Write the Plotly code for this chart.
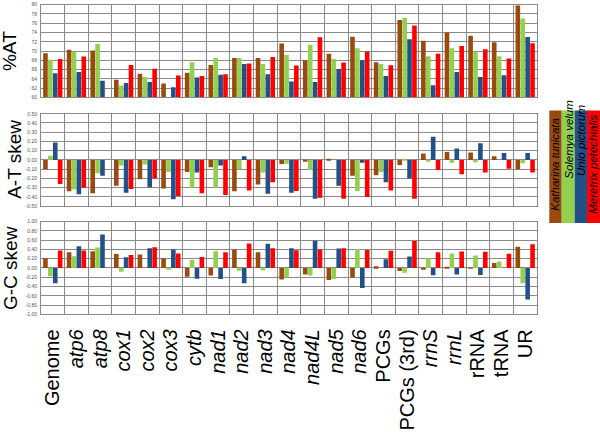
import plotly.graph_objects as go

categories = ["Genome", "atp6", "atp8", "cox1", "cox2", "cox3", "cytb", "nad1", "nad2", "nad3",
              "nad4", "nad4L", "nad5", "nad6", "PCGs", "PCGs (3rd)", "rrnS", "rrnL", "rRNA", "tRNA", "UR"]
tick_labels = ["Genome", "<i>atp6</i>", "<i>atp8</i>", "<i>cox1</i>", "<i>cox2</i>", "<i>cox3</i>",
               "<i>cytb</i>", "<i>nad1</i>", "<i>nad2</i>", "<i>nad3</i>", "<i>nad4</i>", "<i>nad4L</i>",
               "<i>nad5</i>", "<i>nad6</i>", "PCGs", "PCGs (3rd)", "<i>rrnS</i>", "<i>rrnL</i>",
               "rRNA", "tRNA", "UR"]
species = ["Katharina tunicata", "Solemya velum", "Unio pictorum", "Meretrix petechialis"]
colors = ["#9A4A0E", "#92D050", "#24508A", "#FF0000"]

# %AT
at_katharina = [69.5, 70.3, 70.1, 63.8, 65.1, 63.0, 65.3, 67.0, 68.5, 68.5, 71.6, 68.0, 69.4, 73.1, 67.6, 76.7, 72.2, 74.0, 73.3, 71.9, 79.8]
at_solemya = [68.1, 69.9, 71.5, 62.55, 64.4, None, 67.6, 68.5, 68.5, 67.2, 69.2, 71.35, 68.3, 70.6, 67.2, 77.2, 68.9, 70.6, 69.9, 68.9, 77.0]
at_unio = [65.2, 65.5, 63.6, 63.1, 63.3, 62.2, 64.3, 64.9, 67.2, 65.0, 63.4, 63.3, 66.1, 68.0, 64.6, 72.55, 62.6, 65.5, 64.4, 64.8, 73.05]
at_meretrix = [68.3, 68.8, None, 67.0, 66.2, 64.7, 64.6, 65.0, 67.3, 68.7, 66.9, 73.0, 67.5, 69.9, 66.95, 75.5, 69.4, 71.1, 70.4, 68.4, 71.7]

# A-T skew
ats_katharina = [-0.10, -0.34, -0.36, -0.28, -0.21, -0.31, -0.13, -0.08, -0.34, -0.265, -0.045, -0.015, 0.01, -0.17, -0.165, -0.055, 0.07, 0.085, 0.08, 0.04, -0.10]
ats_solemya = [0.045, -0.32, -0.145, -0.06, -0.05, -0.13, -0.30, -0.30, -0.10, -0.135, -0.04, -0.11, 0.0, -0.335, -0.13, 0.01, -0.015, -0.03, -0.025, 0.0, -0.035]
ats_unio = [0.19, -0.37, -0.17, -0.355, -0.295, -0.425, -0.135, -0.06, 0.04, -0.365, -0.355, -0.42, -0.28, -0.03, -0.24, -0.20, 0.25, 0.125, 0.18, 0.075, 0.075]
ats_meretrix = [-0.26, -0.30, None, -0.315, -0.20, -0.39, -0.36, -0.38, -0.33, -0.24, -0.335, -0.41, -0.42, -0.40, -0.33, -0.42, -0.11, -0.155, -0.135, -0.095, -0.135]

# G-C skew
gcs_katharina = [0.21, 0.34, 0.36, 0.30, 0.29, 0.21, -0.19, -0.16, 0.40, 0.34, -0.25, -0.14, -0.26, -0.205, 0.04, -0.065, -0.035, 0.015, 0.005, 0.105, 0.46]
gcs_solemya = [-0.18, 0.255, 0.44, -0.08, 0.0, -0.03, 0.17, 0.36, -0.06, -0.055, -0.20, -0.16, -0.235, 0.41, 0.0, -0.10, 0.21, 0.31, 0.27, 0.14, -0.33]
gcs_unio = [-0.33, 0.47, 0.72, 0.23, 0.425, 0.40, -0.23, -0.235, -0.33, 0.525, 0.425, 0.59, 0.42, -0.43, 0.19, 0.25, -0.155, -0.14, -0.15, 0.0, -0.68]
gcs_meretrix = [0.38, 0.375, None, 0.28, 0.45, 0.31, 0.235, 0.34, 0.53, 0.425, 0.385, 0.40, 0.425, 0.39, 0.37, 0.58, 0.34, 0.355, 0.35, 0.305, 0.51]

panels = [
    ([at_katharina, at_solemya, at_unio, at_meretrix], "x", "y"),
    ([ats_katharina, ats_solemya, ats_unio, ats_meretrix], "x2", "y2"),
    ([gcs_katharina, gcs_solemya, gcs_unio, gcs_meretrix], "x3", "y3"),
]

W, H = 600, 435
n = len(categories)
positions = list(range(n))

fig = go.Figure()
for series, xa, ya in panels:
    for name, vals, col in zip(species, series, colors):
        fig.add_trace(go.Bar(x=positions, y=vals, name=name, marker_color=col,
                             marker_line_width=0, xaxis=xa, yaxis=ya, showlegend=False))

xdom = [41 / W, 537 / W]
def ydom(top, bottom):
    return [1 - bottom / H, 1 - top / H]

grid = "#8a8a8a"
tickfont = dict(size=5, color="#555555", family="Liberation Sans, Arial")

def yaxis(dom, rng, vals, fmt):
    return dict(domain=dom, range=rng, tickvals=vals, ticktext=[fmt(v) for v in vals],
                showgrid=True, gridcolor=grid, gridwidth=0.8, zeroline=False,
                showline=True, linecolor=grid, linewidth=0.8, mirror=True,
                tickfont=tickfont, ticks="", ticklabelstandoff=2)

at_ticks = list(range(60, 81, 2))
ats_ticks = [round(-0.5 + 0.1 * i, 2) for i in range(11)]
gcs_ticks = [round(-1.0 + 0.2 * i, 2) for i in range(11)]

boundaries = [p - 0.5 for p in positions] + [positions[-1] + 0.5]
xgrid = dict(domain=xdom, range=[-0.5, n - 0.5], zeroline=False,
             showline=True, linecolor=grid, linewidth=0.8, mirror=True,
             tickmode="array", tickvals=boundaries, ticktext=[""] * len(boundaries),
             ticks="", showgrid=True, gridcolor=grid, gridwidth=0.8, showticklabels=False)

fig.update_layout(
    width=W, height=H, margin=dict(l=0, r=0, t=0, b=0),
    paper_bgcolor="white", plot_bgcolor="white",
    barmode="group", bargap=0.17, bargroupgap=0.06,
    font=dict(family="Liberation Sans, Arial", color="black"),
    xaxis=dict(**xgrid, anchor="y"),
    xaxis2=dict(**xgrid, anchor="y2"),
    xaxis3=dict(**xgrid, anchor="y3"),
    xaxis4=dict(domain=xdom, range=[-0.5, n - 0.5], overlaying="x3", anchor="y3", side="bottom",
                tickmode="array", tickvals=positions, ticktext=tick_labels, tickangle=-90,
                showgrid=False, zeroline=False, showline=False, ticks="",
                tickfont=dict(size=20, color="black", family="Liberation Sans, Arial"),
                ticklabelstandoff=10),
    yaxis=yaxis(ydom(1.7, 95.7), [60, 80], at_ticks, lambda v: f"{v}"),
    yaxis2=yaxis(ydom(112.3, 206), [-0.5, 0.5], ats_ticks, lambda v: f"{v:.2f}"),
    yaxis3=yaxis(ydom(221.7, 315.7), [-1.0, 1.0], gcs_ticks, lambda v: f"{v:.2f}"),
)

# invisible trace so the label axis is drawn
fig.add_trace(go.Scatter(x=[positions[0]], y=[0], xaxis="x4", yaxis="y3", mode="markers",
                         marker=dict(opacity=0), showlegend=False, hoverinfo="skip"))

# legend strips
shapes = []
strip_x = [549.3, 561.7, 574.7, 587.0, 600.0]
leg_top, leg_bot = 109, 223
text_centers = [163.5, 138.5, 139, 163.5]
annotations = []
for i, (name, col) in enumerate(zip(species, colors)):
    shapes.append(dict(type="rect", xref="paper", yref="paper",
                       x0=strip_x[i] / W, x1=strip_x[i + 1] / W,
                       y0=1 - leg_bot / H, y1=1 - leg_top / H,
                       fillcolor=col, line=dict(width=0)))
    annotations.append(dict(text=f"<i>{name}</i>", xref="paper", yref="paper",
                            x=(strip_x[i] + strip_x[i + 1]) / 2 / W, y=1 - text_centers[i] / H,
                            xanchor="center", yanchor="middle", textangle=-90, showarrow=False,
                            borderpad=0, font=dict(size=11.5, color="black",
                                                   family="Liberation Sans, Arial")))

# panel titles
titles = [("%AT", 9, 48.7), ("A-T skew", 15, 159), ("G-C skew", 11, 268.7)]
for txt, xpx, ypx in titles:
    annotations.append(dict(text=txt, xref="paper", yref="paper", x=xpx / W, y=1 - ypx / H,
                            xanchor="center", yanchor="middle", textangle=-90, showarrow=False,
                            borderpad=0,
                            font=dict(size=19, color="black", family="Liberation Sans, Arial")))

fig.update_layout(shapes=shapes, annotations=annotations)
fig.write_html("out.html", config={"displayModeBar": False},
               post_script="document.body.style.margin='0';")
